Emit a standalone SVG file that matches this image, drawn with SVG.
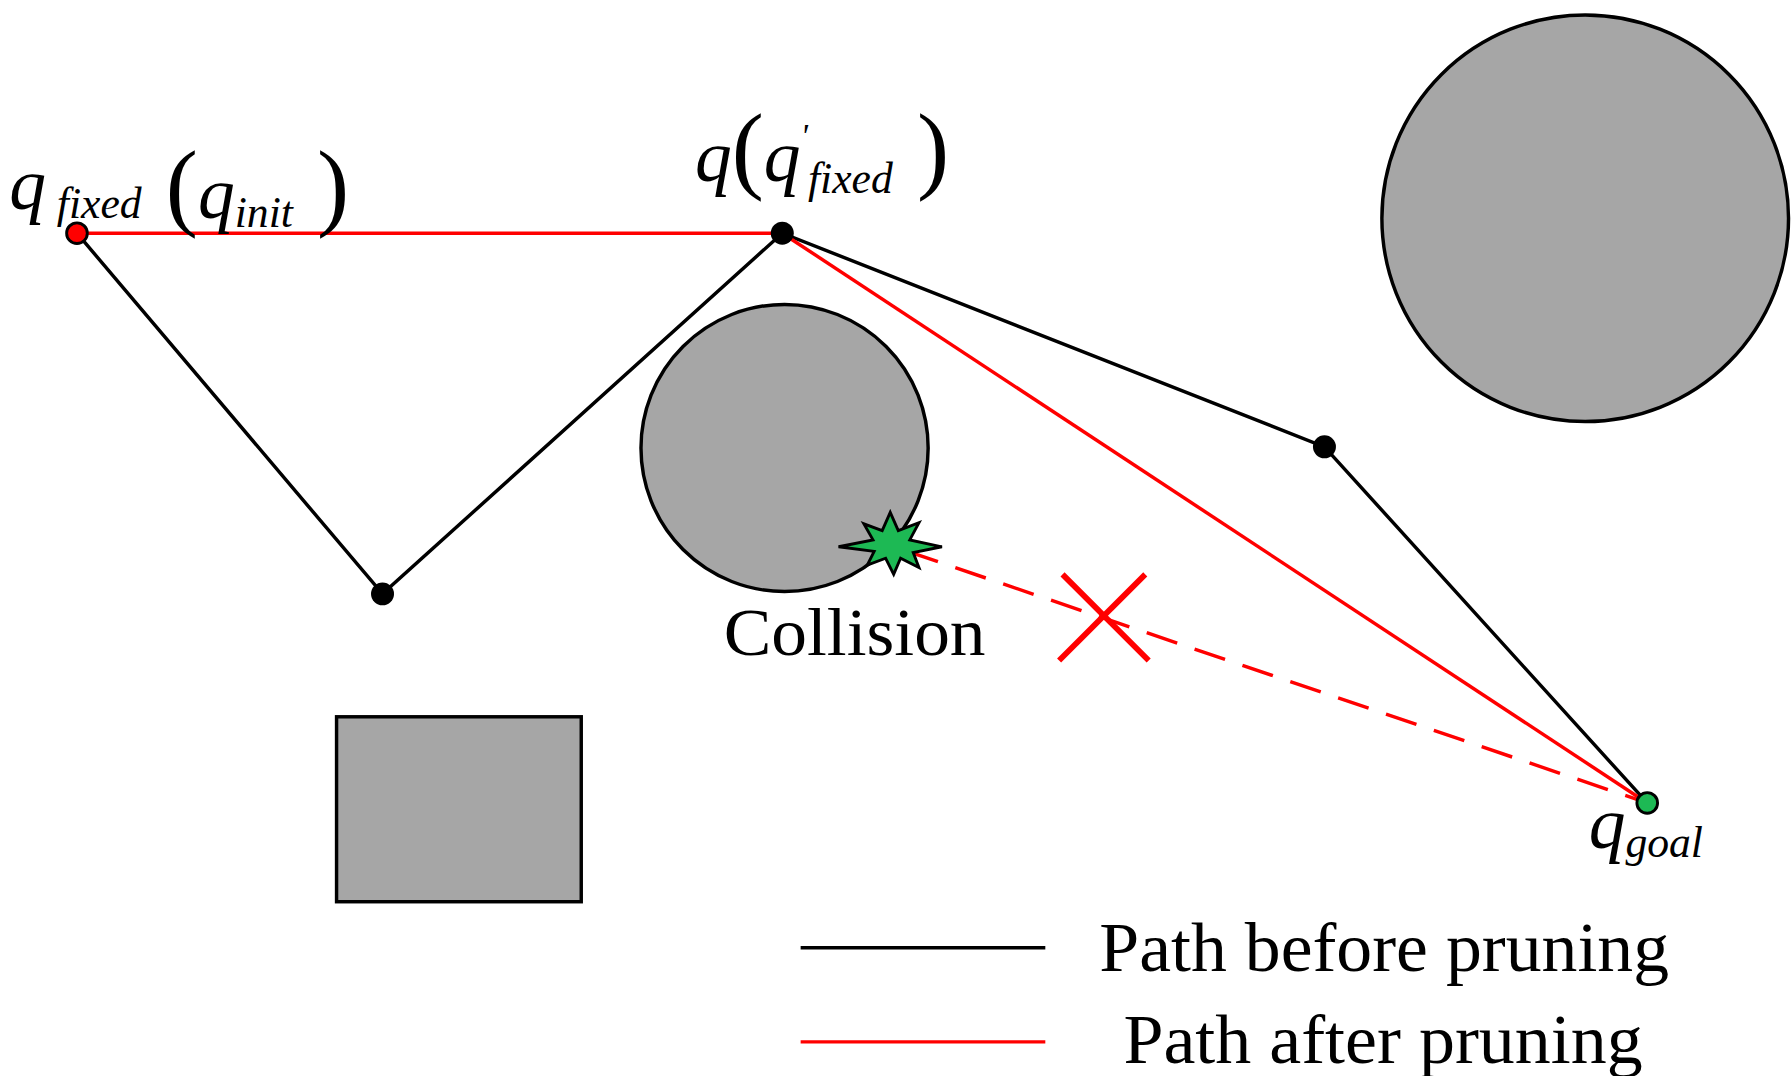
<svg xmlns="http://www.w3.org/2000/svg" width="1792" height="1076" viewBox="0 0 1792 1076">
<style>
.obs{fill:#a6a6a6;stroke:#000;stroke-width:3}
.blk{stroke:#000;stroke-width:3;fill:none}
.red{stroke:#ff0000;stroke-width:3;fill:none}
.t{font-family:"Liberation Serif","Times New Roman",serif;fill:#000}
.i{font-style:italic}
</style>
<rect width="1792" height="1076" fill="#fff"/>
<g transform="scale(1.1487)">
<g id="obstacles">
<circle class="obs" cx="683" cy="390" r="125"/>
<circle class="obs" cx="1380" cy="190" r="177"/>
<rect class="obs" x="293" y="624" width="213" height="161"/>
</g>
<g id="connectors">
<polyline class="blk" points="67,203 333,517 681,203 1153,389 1434,699"/>
<line class="red" x1="67" y1="203" x2="681" y2="203"/>
<line class="red" x1="681" y1="203" x2="1434" y2="699"/>
<line class="red" x1="790" y1="480" x2="1434" y2="699" stroke-dasharray="28,16"/>
<line x1="925" y1="500" x2="1000" y2="575" stroke="#ff0000" stroke-width="5"/>
<line x1="997" y1="500" x2="922" y2="575" stroke="#ff0000" stroke-width="5"/>
</g>
<g id="n-init"><circle cx="67" cy="203" r="9" fill="#ff0000" stroke="#000" stroke-width="2.5"/>
<text class="t" x="8" y="182"><tspan class="i" font-size="64">q</tspan><tspan class="i" font-size="38" dy="8"> fixed</tspan><tspan font-size="84" dy="0"> (</tspan><tspan class="i" font-size="64">q</tspan><tspan class="i" font-size="38" dy="8">init</tspan><tspan font-size="84" dy="-8"> )</tspan></text></g>
<g id="n-q"><circle cx="681" cy="203" r="10" fill="#000"/>
<text class="t" x="605" y="158"><tspan class="i" font-size="64">q</tspan><tspan font-size="84">(</tspan><tspan class="i" font-size="64">q</tspan><tspan class="i" font-size="30" dy="-30">'</tspan><tspan class="i" font-size="38" dy="40">fixed</tspan><tspan font-size="84" dy="-10"> )</tspan></text></g>
<g id="n-low"><circle cx="333" cy="517" r="10" fill="#000"/></g>
<g id="n-mid"><circle cx="1153" cy="389" r="10" fill="#000"/></g>
<g id="n-goal"><circle cx="1434" cy="699" r="9" fill="#1db954" stroke="#000" stroke-width="2.5"/>
<text class="t" x="1383" y="738"><tspan class="i" font-size="64">q</tspan><tspan class="i" font-size="38" dy="8">goal</tspan></text></g>
<g id="collision">
<polygon points="775,446 782,462 800,455 792,470 820,476 795,481 800,494 784,486 778,500 771,486 755,492 761,480 730,476 760,470 752,456 768,462" fill="#1db954" stroke="#000" stroke-width="2.5"/>
<text class="t" x="630" y="570" font-size="58" textLength="228" lengthAdjust="spacingAndGlyphs">Collision</text>
</g>
<g id="legend">
<line class="blk" x1="697" y1="825" x2="910" y2="825"/>
<text class="t" x="957" y="845" font-size="60" textLength="496" lengthAdjust="spacingAndGlyphs">Path before pruning</text>
<line class="red" x1="697" y1="907" x2="910" y2="907"/>
<text class="t" x="978" y="925" font-size="60" textLength="452" lengthAdjust="spacingAndGlyphs">Path after pruning</text>
</g>
</g>
</svg>
